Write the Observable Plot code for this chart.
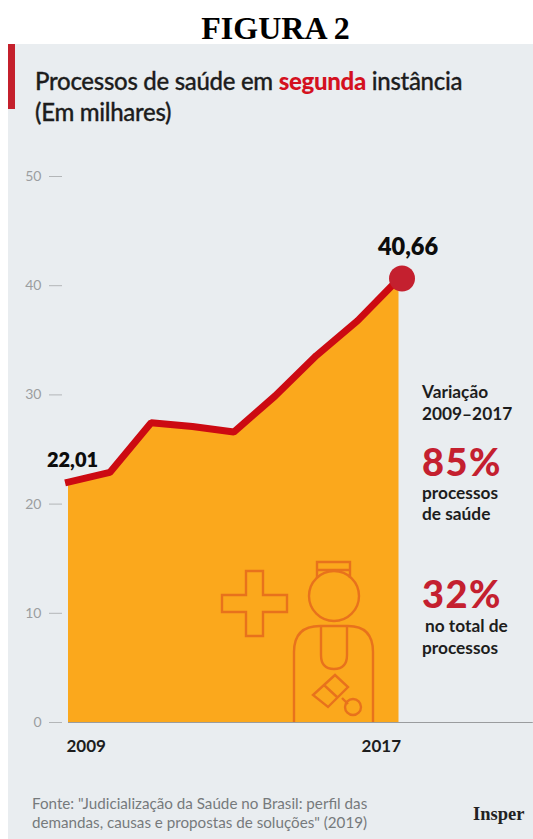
<!DOCTYPE html>
<html lang="pt">
<head>
<meta charset="utf-8">
<script src="https://cdn.jsdelivr.net/npm/d3@7"></script>
<script src="https://cdn.jsdelivr.net/npm/@observablehq/plot@0.6"></script>
<style>
  html, body { margin: 0; padding: 0; background: #fff; }
  #page { position: relative; width: 533px; height: 839px; overflow: hidden; font-family: Lato, sans-serif; }
  #figura { position: absolute; left: 0; top: 9px; width: 551px; text-align: center;
            font: bold 32px/38px "Liberation Serif", serif; color: #000; }
  #panel { position: absolute; left: 8px; top: 44px; width: 525px; height: 795px; background: #e9edf0; }
  #flag { position: absolute; left: 8px; top: 44px; width: 7px; height: 65px; background: #c4202c; }
  #chart { position: absolute; left: 8px; top: 44px; }
  #chart svg { display: block; }
  .t { position: absolute; white-space: nowrap; color: #1d1d1d; }
  .title { left: 35px; font-size: 24px; line-height: 32px; font-weight: 500; letter-spacing: -0.3px; -webkit-text-stroke: 0.3px #1d1d1d; }
  .title b { color: #d4111f; font-weight: 900; -webkit-text-stroke: 0; }
  .side { font-size: 17.3px; line-height: 18px; font-weight: 700; }
  .big { font-size: 38px; line-height: 30px; font-weight: 900; color: #c4202f; letter-spacing: 1.5px; }
  .foot { left: 32px; font-size: 15.2px; line-height: 19px; color: #767a7c; }
  .brand { left: 473px; top: 803px; font: bold 18.5px/22px "Liberation Serif", serif; color: #222; }
  #icon { position: absolute; left: 0; top: 0; pointer-events: none; }
</style>
</head>
<body>
<div id="page">
  <div id="panel"></div>
  <div id="flag"></div>
  <div id="chart"></div>
  <svg id="icon" width="533" height="839" fill="none" stroke="#e8721c" stroke-width="2.4">
    <path d="M246 571H263V595H287V612H263V636H246V612H222V595H246Z"/>
    <path d="M317 578V562H350V578M317 570H350"/>
    <circle cx="334" cy="596" r="25"/>
    <path d="M294 722V652Q294 626 320 626H348Q373 626 373 652V722"/>
    <path d="M321 626V655Q321 669 334 669Q347 669 347 655V626"/>
    <path d="M335 675L348 687L328 707L313 695ZM324 685L337 697M342 698L348 704"/>
    <circle cx="353" cy="707" r="8"/>
  </svg>
  <div id="figura">FIGURA 2</div>
  <div class="t title" style="top:65px">Processos de saúde em <b>segunda</b> instância</div>
  <div class="t title" style="top:96px">(Em milhares)</div>
  <div class="t side" style="left:422px;top:383px">Variação</div>
  <div class="t side" style="left:422px;top:405px">2009–2017</div>
  <div class="t big" style="left:422px;top:446px">85%</div>
  <div class="t side" style="left:422px;top:484px">processos</div>
  <div class="t side" style="left:422px;top:505px">de saúde</div>
  <div class="t big" style="left:422px;top:578px">32%</div>
  <div class="t side" style="left:425px;top:617px">no total de</div>
  <div class="t side" style="left:422px;top:639px">processos</div>
  <div class="t foot" style="top:794px">Fonte: "Judicialização da Saúde no Brasil: perfil das</div>
  <div class="t foot" style="top:813px">demandas, causas e propostas de soluções" (2019)</div>
  <div class="t brand">Insper</div>
</div>
<script>
// Processos de saúde em segunda instância, em milhares, 2009–2017
const years = [2009, 2010, 2011, 2012, 2013, 2014, 2015, 2016, 2017];
const cases = [22.01, 22.9, 27.45, 27.1, 26.6, 29.9, 33.6, 36.8, 40.66];
const yTicks = [0, 10, 20, 30, 40, 50];

const rows = years.map((year, i) => ({year, value: cases[i]}));
const first = rows[0];
const last = rows[rows.length - 1];
const comma = (v) => v.toFixed(2).replace(".", ",");
const yearLabel = {y: 0, text: (d) => String(d), dy: 24, fontSize: 17, fontWeight: 700, fill: "#1d1d1d"};

const chart = Plot.plot({
  width: 525,
  height: 795,
  marginLeft: 54,
  marginRight: 134.5,
  marginTop: 132,
  marginBottom: 117,
  style: {background: "transparent", fontFamily: "Lato, sans-serif", overflow: "visible"},
  x: {domain: [2009, 2017], insetLeft: 6, axis: null},
  y: {domain: [0, 50], axis: null},
  marks: [
    Plot.areaY(rows, {x: "year", y: "value", fill: "#fba81c"}),
    Plot.ruleY([0], {x1: 2009, x2: 2020.25, stroke: "#9a9c9e", strokeWidth: 1}),
    Plot.axisY({
      ticks: yTicks,
      tickSize: 13,
      tickPadding: 8,
      label: null,
      stroke: "#b3b6b8",
      fill: "#9b9ea0",
      fontSize: 14
    }),
    Plot.lineY(rows, {
      x: "year", y: "value",
      stroke: "#cc0a12", strokeWidth: 7,
      strokeLinecap: "square", strokeLinejoin: "miter"
    }),
    Plot.dot([last], {x: "year", y: "value", r: 13, fill: "#c4202f", dx: 3}),
    Plot.text([first], {
      x: "year", y: "value", text: (d) => comma(d.value),
      dx: 4, dy: -22, fontSize: 20, fontWeight: 800, fill: "#0c0c0c"
    }),
    Plot.text([last], {
      x: "year", y: "value", text: (d) => comma(d.value),
      dx: 9, dy: -31, fontSize: 23.5, fontWeight: 800, fill: "#0c0c0c"
    }),
    Plot.text([years[0]], {...yearLabel, x: (d) => d, dx: -2, textAnchor: "start"}),
    Plot.text([years[years.length - 1]], {...yearLabel, x: (d) => d, dx: 2, textAnchor: "end"})
  ]
});
document.getElementById("chart").appendChild(chart);
</script>
</body>
</html>
